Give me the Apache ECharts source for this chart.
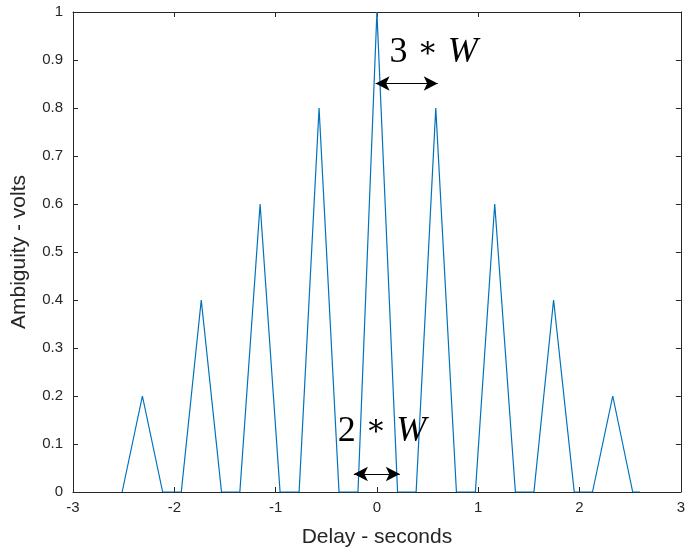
<!DOCTYPE html>
<html>
<head>
<meta charset="utf-8">
<script src="https://cdn.jsdelivr.net/npm/echarts@6/dist/echarts.min.js"></script>
<style>
  html, body { margin: 0; padding: 0; background: #fff; }
  #chart { width: 688px; height: 556px; }
</style>
</head>
<body>
<div id="chart"></div>
<script>
// Delay samples (seconds) and ambiguity magnitude (volts)
const delay = [-2.515, -2.315, -2.115, -1.931, -1.734, -1.534, -1.353, -1.153, -0.956, -0.768,
  -0.571, -0.374, -0.187, 0, 0.204, 0.387, 0.581, 0.785, 0.972, 1.163,
  1.367, 1.550, 1.744, 1.948, 2.128, 2.328, 2.525, 2.598];
const ambiguity = [0, 0.2, 0, 0, 0.4, 0, 0, 0.6, 0, 0,
  0.8, 0, 0, 1, 0, 0, 0.8, 0, 0, 0.6,
  0, 0, 0.4, 0, 0, 0.2, 0, 0];

// Axis ranges
const xRange = [-3, 3];
const yRange = [0, 1];

// Annotation arrows: [x0, x1, y] and their labels: [x, y, leading digit]
const arrows = [[-0.013, 0.6, 0.851], [-0.227, 0.226, 0.0375]];
const arrowText = [[0.56, 0.915, '3'], [0.05, 0.126, '2']];

const axisColor = '#262626';
const chart = echarts.init(document.getElementById('chart'), null, { renderer: 'canvas' });

const baseX = {
  type: 'value', min: xRange[0], max: xRange[1], interval: 1,
  axisLine: { show: true, onZero: false, lineStyle: { color: axisColor, width: 1 } },
  axisTick: { show: true, inside: true, length: 5, lineStyle: { color: axisColor } },
  splitLine: { show: false }
};
const baseY = {
  type: 'value', min: yRange[0], max: yRange[1], interval: 0.1,
  axisLine: { show: true, onZero: false, lineStyle: { color: axisColor, width: 1 } },
  axisTick: { show: true, inside: true, length: 5, lineStyle: { color: axisColor } },
  splitLine: { show: false }
};

chart.setOption({
  animation: false,
  backgroundColor: '#fff',
  grid: { left: 73, right: 6, top: 12, bottom: 64, containLabel: false },
  xAxis: [
    Object.assign({}, baseX, {
      position: 'bottom',
      axisLabel: { color: axisColor, fontSize: 15, fontFamily: 'Liberation Sans', margin: 8 },
      name: 'Delay - seconds', nameLocation: 'middle', nameGap: 35,
      nameTextStyle: { color: axisColor, fontSize: 21, fontFamily: 'Liberation Sans' }
    }),
    Object.assign({}, baseX, { position: 'top', axisLabel: { show: false } })
  ],
  yAxis: [
    Object.assign({}, baseY, {
      position: 'left',
      axisLabel: { color: axisColor, fontSize: 15, fontFamily: 'Liberation Sans', margin: 10 },
      name: 'Ambiguity - volts', nameLocation: 'middle', nameGap: 43,
      nameTextStyle: { color: axisColor, fontSize: 21, fontFamily: 'Liberation Sans' }
    }),
    Object.assign({}, baseY, { position: 'right', axisLabel: { show: false } })
  ],
  series: [{
    type: 'line',
    data: delay.map((d, i) => [d, ambiguity[i]]),
    showSymbol: false,
    symbol: 'none',
    lineStyle: { color: '#0072BD', width: 1.2 },
    z: 3,
    markLine: {
      silent: true,
      symbol: ['arrow', 'arrow'],
      symbolSize: [11, 14],
      lineStyle: { color: '#000', width: 1, type: 'solid' },
      label: { show: false },
      data: arrows.map(a => [{ coord: [a[0], a[2]] }, { coord: [a[1], a[2]] }])
    },
    markPoint: {
      silent: true,
      symbol: 'circle',
      symbolSize: 0,
      data: arrowText.map(t => ({ coord: [t[0], t[1]], value: t[2] })),
      label: {
        show: true,
        position: 'inside',
        formatter: p => '{n|' + p.value + ' }{a|\u2217}{n| }{w|W}',
        rich: {
          n: { fontFamily: 'Liberation Serif', fontSize: 36, color: '#000' },
          a: { fontFamily: 'DejaVu Serif', fontSize: 30, color: '#000', padding: [0, 1, 8, 1] },
          w: { fontFamily: 'Liberation Serif', fontStyle: 'italic', fontSize: 36, color: '#000' }
        }
      }
    }
  }]
});
</script>
</body>
</html>
